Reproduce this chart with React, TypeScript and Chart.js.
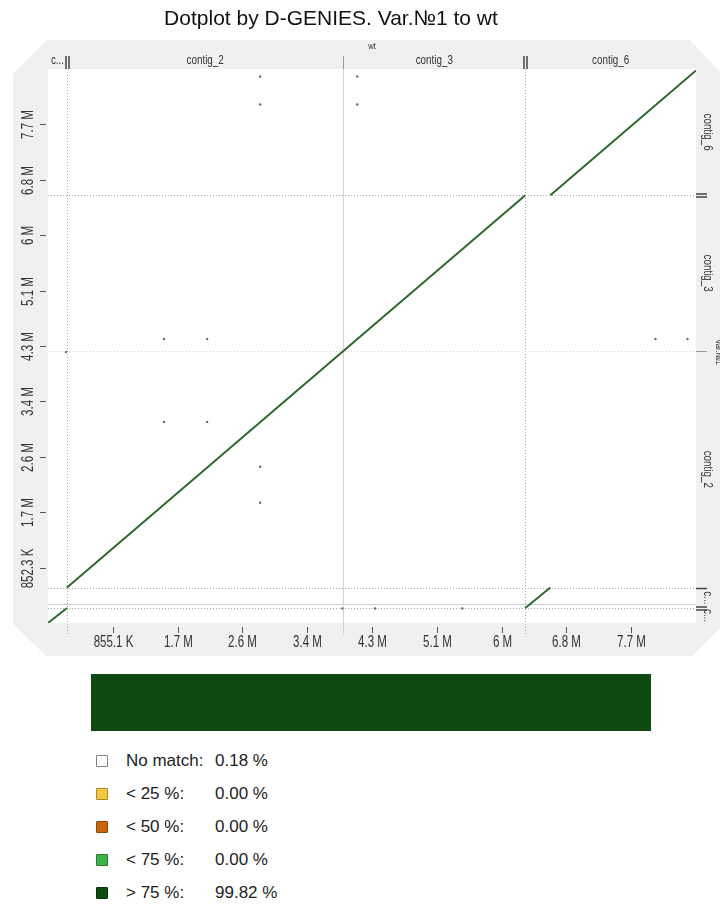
import { useEffect, useRef } from "react";
import { Chart, registerables } from "chart.js";

Chart.register(...registerables);

const TITLE = "Dotplot by D-GENIES. Var.№1 to wt";
const targetName = "wt";
const queryName = "Var.№1";

// Target (x) contigs and their cumulative end coordinates, bp
const targetContigs = ["c...", "contig_2", "contig_3", "contig_6"];
const targetEnds = [251000, 3896000, 6299000, 8551000];
// Query (y) contigs and their cumulative end coordinates, bp
const queryContigs = ["c...", "c...", "contig_2", "contig_3", "contig_6"];
const queryEnds = [230000, 545000, 4185000, 6580000, 8523000];

const xTickValues = [855100, 1710200, 2565300, 3420400, 4275500, 5130600, 5985700, 6840800, 7695900];
const xTickLabels = ["855.1 K", "1.7 M", "2.6 M", "3.4 M", "4.3 M", "5.1 M", "6 M", "6.8 M", "7.7 M"];
const yTickValues = [852300, 1704600, 2556900, 3409200, 4261500, 5113800, 5966100, 6818400, 7670700];
const yTickLabels = ["852.3 K", "1.7 M", "2.6 M", "3.4 M", "4.3 M", "5.1 M", "6 M", "6.8 M", "7.7 M"];

// Alignments (> 75 % identity): start and end on target / query
const alnX1 = [0, 251000, 6299000, 6629000];
const alnY1 = [0, 545000, 230000, 6580000];
const alnX2 = [251000, 6299000, 6629000, 8551000];
const alnY2 = [230000, 6580000, 545000, 8500000];

// Short spurious hits
const hitX = [2800000, 2800000, 4081000, 4081000, 1532000, 2100000, 1532000, 2100000, 2800000, 2800000, 8016000, 8439000, 3883000, 4318000, 5467000, 238000];
const hitY = [8408000, 7978000, 8408000, 7978000, 4369000, 4369000, 3094000, 3094000, 2403000, 1850000, 4369000, 4369000, 223000, 223000, 223000, 4169000];

// Identity summary
const identityClasses = ["No match:", "< 25 %:", "< 50 %:", "< 75 %:", "> 75 %:"];
const identityPct = [0.18, 0.0, 0.0, 0.0, 99.82];
const identityColors = ["#ffffff", "#f5c842", "#c9650f", "#3cb44b", "#0e4a12"];
const identityBorders = ["#808080", "#a88a2a", "#8a4a10", "#2a7a34", "#0a300c"];

const X_MAX = 8551000;
const Y_MAX = 8523000;
const LINE_GREEN = "#2c6a2c";
const SANS = "'Liberation Sans', Arial, sans-serif";

// Condensed text: regular sans squeezed horizontally
function narrowText(ctx: CanvasRenderingContext2D, text: string, x: number, y: number, size: number, squeeze: number, rot = 0) {
  ctx.save();
  ctx.translate(x, y);
  if (rot) ctx.rotate(rot);
  ctx.scale(squeeze, 1);
  ctx.font = `${size}px ${SANS}`;
  ctx.textAlign = "center";
  ctx.textBaseline = "middle";
  ctx.fillText(text, 0, 0);
  ctx.restore();
}

const framePlugin = {
  id: "dgFrame",
  beforeDraw(chart: any) {
    const { ctx, chartArea: a } = chart;
    const xs = chart.scales.x;
    const ys = chart.scales.y;
    ctx.save();

    // bevelled grey panel
    ctx.fillStyle = "#f0f0f0";
    ctx.beginPath();
    ctx.moveTo(47, 40);
    ctx.lineTo(690, 40);
    ctx.lineTo(720, 72);
    ctx.lineTo(720, 628);
    ctx.lineTo(692, 656);
    ctx.lineTo(46, 656);
    ctx.lineTo(13, 624);
    ctx.lineTo(13, 74);
    ctx.closePath();
    ctx.fill();

    // plotting area
    ctx.fillStyle = "#ffffff";
    ctx.fillRect(a.left, a.top, a.right - a.left, a.bottom - a.top);

    ctx.fillStyle = "#333";
    // target name
    narrowText(ctx, targetName, (a.left + a.right) / 2, 47, 9, 0.85);
    // query name, rotated
    narrowText(ctx, queryName, 718, (a.top + a.bottom) / 2 + 6, 9, 0.85, Math.PI / 2);

    // contig labels along the top strip
    let prev = 0;
    targetContigs.forEach((name, i) => {
      const x0 = xs.getPixelForValue(prev);
      const x1 = xs.getPixelForValue(targetEnds[i]);
      narrowText(ctx, name, (x0 + x1) / 2, 61, 12, 0.82);
      prev = targetEnds[i];
    });

    // contig labels along the right strip
    prev = 0;
    queryContigs.forEach((name, i) => {
      const y0 = ys.getPixelForValue(prev);
      const y1 = ys.getPixelForValue(queryEnds[i]);
      narrowText(ctx, name, a.right + 11, (y0 + y1) / 2, 12, 0.82, Math.PI / 2);
      prev = queryEnds[i];
    });

    // x ticks
    ctx.strokeStyle = "#555";
    ctx.lineWidth = 1;
    xTickValues.forEach((v, i) => {
      const px = Math.round(xs.getPixelForValue(v)) + 0.5;
      ctx.beginPath();
      ctx.moveTo(px, a.bottom + 4);
      ctx.lineTo(px, a.bottom + 10);
      ctx.stroke();
      narrowText(ctx, xTickLabels[i], px, a.bottom + 20, 16, 0.72);
    });

    // y ticks
    yTickValues.forEach((v, i) => {
      const py = Math.round(ys.getPixelForValue(v)) + 0.5;
      ctx.beginPath();
      ctx.moveTo(a.left - 8, py);
      ctx.lineTo(a.left - 2, py);
      ctx.stroke();
      narrowText(ctx, yTickLabels[i], a.left - 19, py, 16, 0.72, -Math.PI / 2);
    });
    ctx.restore();
  },
  beforeDatasetsDraw(chart: any) {
    const { ctx, chartArea: a } = chart;
    const xs = chart.scales.x;
    const ys = chart.scales.y;
    ctx.save();
    ctx.lineWidth = 1;

    // contig boundaries on the target axis
    targetEnds.slice(0, -1).forEach((v, i) => {
      const px = Math.round(xs.getPixelForValue(v)) + 0.5;
      const major = i !== 1;
      ctx.strokeStyle = major ? "#a8a8a8" : "#d4d4d4";
      ctx.setLineDash(major ? [1, 2] : []);
      ctx.beginPath();
      ctx.moveTo(px, a.top);
      ctx.lineTo(px, a.bottom + 12);
      ctx.stroke();
      // strip mark
      ctx.setLineDash([]);
      ctx.strokeStyle = major ? "#444" : "#999";
      ctx.lineWidth = major ? 1.5 : 1;
      [major ? -1.5 : 0, major ? 1.5 : 0].forEach((d) => {
        ctx.beginPath();
        ctx.moveTo(px + d, a.top - 13);
        ctx.lineTo(px + d, a.top);
        ctx.stroke();
      });
      ctx.lineWidth = 1;
    });

    // contig boundaries on the query axis
    queryEnds.slice(0, -1).forEach((v, i) => {
      const py = Math.round(ys.getPixelForValue(v)) + 0.5;
      const major = i !== 2;
      ctx.strokeStyle = major ? "#a8a8a8" : "#d4d4d4";
      ctx.setLineDash([1, 2]);
      ctx.beginPath();
      ctx.moveTo(a.left, py);
      ctx.lineTo(a.right, py);
      ctx.stroke();
      if (i === 0) {
        ctx.strokeStyle = "#d0d0d0";
        ctx.setLineDash([]);
        ctx.beginPath();
        ctx.moveTo(a.left, py - 4);
        ctx.lineTo(a.right, py - 4);
        ctx.stroke();
      }
      ctx.setLineDash([]);
      ctx.strokeStyle = major ? "#444" : "#999";
      ctx.lineWidth = major ? 1.5 : 1;
      const offs = i === 0 || i === 3 ? [-1.5, 1.5] : [0];
      offs.forEach((d) => {
        ctx.beginPath();
        ctx.moveTo(a.right, py + d);
        ctx.lineTo(a.right + 11, py + d);
        ctx.stroke();
      });
      ctx.lineWidth = 1;
    });
    ctx.restore();
  },
};

function DotPlot() {
  const ref = useRef<HTMLCanvasElement | null>(null);
  useEffect(() => {
    if (!ref.current) return;
    const alignmentSets = alnX1.map((x1, i) => ({
      data: [
        { x: x1, y: alnY1[i] },
        { x: alnX2[i], y: alnY2[i] },
      ],
      showLine: true,
      borderColor: LINE_GREEN,
      borderWidth: 2,
      pointRadius: 0,
      fill: false,
    }));
    const hits = {
      data: hitX.map((x, i) => ({ x, y: hitY[i] })),
      showLine: false,
      pointRadius: 1.2,
      pointBorderWidth: 0,
      pointBackgroundColor: "#6a6a6a",
    };
    const chart = new Chart(ref.current, {
      type: "scatter",
      data: { datasets: [...alignmentSets, hits] as any },
      options: {
        animation: false,
        responsive: false,
        devicePixelRatio: 1,
        layout: { padding: { left: 48, top: 69, right: 24, bottom: 42 } },
        scales: {
          x: { type: "linear", min: 0, max: X_MAX, display: false },
          y: { type: "linear", min: 0, max: Y_MAX, display: false },
        },
        plugins: { legend: { display: false }, tooltip: { enabled: false }, title: { display: false } },
      },
      plugins: [framePlugin],
    });
    return () => chart.destroy();
  }, []);
  return (
    <canvas
      ref={ref}
      width={720}
      height={665}
      style={{ position: "absolute", left: 0, top: 0, width: 720, height: 665 }}
    />
  );
}

export default function App() {
  const barOrder = [4, 3, 2, 1, 0];
  return (
    <div
      style={{
        position: "absolute",
        left: 0,
        top: 0,
        width: 720,
        height: 915,
        background: "#ffffff",
        fontFamily: SANS,
        color: "#222",
        overflow: "hidden",
      }}
    >
      <DotPlot />
      <div
        style={{
          position: "absolute",
          left: 0,
          top: 4,
          width: 662,
          textAlign: "center",
          fontSize: 21,
          lineHeight: "28px",
          color: "#111",
        }}
      >
        {TITLE}
      </div>
      <div
        style={{
          position: "absolute",
          left: 91,
          top: 674,
          width: 561,
          height: 57,
          display: "flex",
          boxShadow: "0 0 0 1px #1e3a1e inset",
        }}
      >
        {barOrder.map((k) => (
          <div
            key={k}
            style={{ width: `${identityPct[k]}%`, height: "100%", background: identityColors[k] }}
          />
        ))}
      </div>
      {identityClasses.map((name, i) => (
        <div
          key={i}
          style={{
            position: "absolute",
            left: 96,
            top: 750 + i * 33,
            height: 22,
            display: "flex",
            alignItems: "center",
            fontSize: 17,
          }}
        >
          <span
            style={{
              display: "inline-block",
              width: 10,
              height: 10,
              background: identityColors[i],
              border: `1px solid ${identityBorders[i]}`,
              borderRadius: 1,
              marginRight: 18,
            }}
          />
          <span style={{ display: "inline-block", width: 89 }}>{name}</span>
          <span>{identityPct[i].toFixed(2)} %</span>
        </div>
      ))}
    </div>
  );
}
